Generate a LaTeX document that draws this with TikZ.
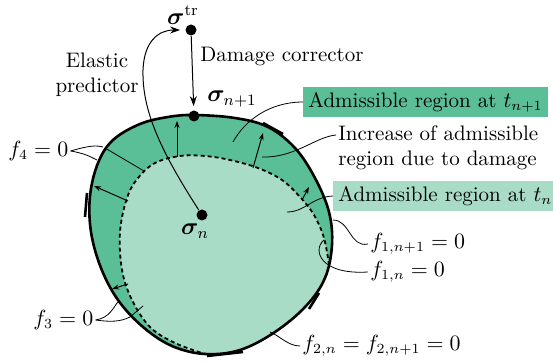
\documentclass[tikz,border=0pt]{standalone}
\usepackage{amsmath,amssymb,bm}
\usepackage{tikz}
\usetikzlibrary{arrows.meta,positioning}
\definecolor{bandgreen}{RGB}{90,190,150}
\definecolor{oldgreen}{RGB}{168,220,198}
\tikzset{
  ys/.style={x=0.5pt, y=-0.5pt, >={Stealth[length=5pt,width=3.5pt]},
             every node/.style={font=\fontsize{10.5}{12.5}\selectfont, inner sep=1pt}},
  pt/.style={circle, fill, inner sep=0pt, minimum size=5.5pt},
  stxt/.style={font=\large},
  lbox/.style={inner sep=2.5pt, minimum height=14pt},
  lead/.style={line width=0.4pt},
  radarr/.style={->, line width=0.5pt, >={Stealth[length=3.5pt,width=2.5pt]}},
  bnd/.style={line width=1.3pt},
  oldbnd/.style={line width=0.9pt, dash pattern=on 2pt off 1.5pt}
}

\begin{document}
\begin{tikzpicture}[ys]
\useasboundingbox (0,0) rectangle (553,363);
% regions
\path[save path=\bndp] plot[smooth cycle, tension=0.6] coordinates {(194,115) (235,118) (268,127) (295,148)
  (315,178) (329,212) (332,245) (325,278) (306,306) (275,332) (240,350) (205,354) (172,346) (143,327)
  (118,300) (101,268) (91,232) (90,196) (98,163) (113,140) (140,124) (168,117)};
\fill[bandgreen, use path=\bndp];
\begin{scope}
\clip[use path=\bndp];
\fill[oldgreen] plot[smooth cycle, tension=0.6] coordinates {(329,265) (324,238) (314,215) (300,197) (282,180)
  (258,168) (230,160) (205,156) (180,156) (155,163) (138,178) (127,198) (120,232) (122,270) (132,300)
  (150,327) (175,343) (205,356) (245,358) (285,342) (318,312) (335,280)};
\end{scope}
\foreach \a/\b in {{(177,157)}/{(177,121)}, {(128,201)}/{(94,186)}, {(128,284)}/{(112,289)},
                   {(253,168)}/{(263,133)}, {(302,200)}/{(309,187)}}
  \draw[radarr] \a -- \b;
\draw[lead] (105,148) -- (144,171) (130,317) -- (143,306);
\draw[oldbnd] plot[smooth, tension=0.6] coordinates {(329,265) (324,238) (314,215) (300,197) (282,180)
  (258,168) (230,160) (205,156) (180,156) (155,163) (138,178) (127,198) (120,232) (122,270) (132,300)
  (150,327) (175,343) (205,354)};
\draw[bnd, use path=\bndp];
\draw[bnd] (263,123) -- (283,134) (87,193) -- (85,217) (207,356) -- (243,352) (309,309) -- (319,293);

% states
\node[pt] (st) at (191,30) {};
\node[pt] (snp1) at (194,116) {};
\node[pt] (sn) at (202,215) {};
\node[stxt] (sttxt) at (183,15) {$\boldsymbol{\sigma}^{\mathrm{tr}}$};
\node[stxt] (snp1txt) at (232,99) {$\boldsymbol{\sigma}_{n+1}$};
\node[stxt] (sntxt) at (195,231) {$\boldsymbol{\sigma}_{n}$};
\draw[->, line width=0.5pt, shorten >=2.5pt] (sn) .. controls (160,150) and (142,110) .. (143,70)
  .. controls (144,42) and (158,30) .. (st);
\draw[->, line width=0.5pt, shorten >=2pt] (st) -- (snp1);
\node[align=center] (ep) at (97,75) {Elastic\\predictor};
\node[anchor=west] (dc) at (198,56) {Damage corrector};

% labels
\node[lbox, fill=bandgreen, anchor=west] (at1) at (303,102) {Admissible region at $t_{n+1}$};
\node[anchor=west, align=left] (inc) at (336,148) {Increase of admissible\\region due to damage};
\node[lbox, fill=oldgreen, anchor=west] (atn) at (333,196) {Admissible region at $t_n$};
\node[anchor=west] (f1a) at (368,244) {$f_{1,n+1}=0$};
\node[anchor=west] (f1b) at (368,272) {$f_{1,n}=0$};
\node[anchor=west] (f2) at (300,346) {$f_{2,n}=f_{2,n+1}=0$};
\node[anchor=west] (f4) at (6,151) {$f_4=0$};
\node[anchor=west] (f3) at (31,320) {$f_3=0$};
\coordinate (c1) at (233,142);
\coordinate (c2) at (262,157);
\coordinate (c3) at (287,212);
\coordinate (c4) at (333,220);
\coordinate (c5) at (324,240);
\coordinate (c6) at (270,332);
\draw[lead] (at1.west) .. controls (270,102) and (245,120) .. (c1);
\draw[lead] ([yshift=6.5pt]inc.west) .. controls (315,137) and (295,158) .. (c2);
\draw[lead] (atn.west) .. controls (312,197) and (305,212) .. (c3);
\draw[lead] (f1a.west) .. controls (350,248) and (350,220) .. (c4);
\draw[lead] (f1b.west) .. controls (320,275) and (312,250) .. (c5);
\draw[lead] (f2.west) .. controls (288,346) and (280,336) .. (c6);
\draw[lead] (f4.east) .. controls (88,146) and (95,145) .. (103,147);
\draw[lead] (f4.east) .. controls (88,154) and (92,158) .. (97,160);
\draw[lead] (f3.east) .. controls (110,318) and (114,306) .. (118,302);
\draw[lead] (f3.east) .. controls (110,322) and (120,322) .. (130,317);
\end{tikzpicture}
\end{document}
